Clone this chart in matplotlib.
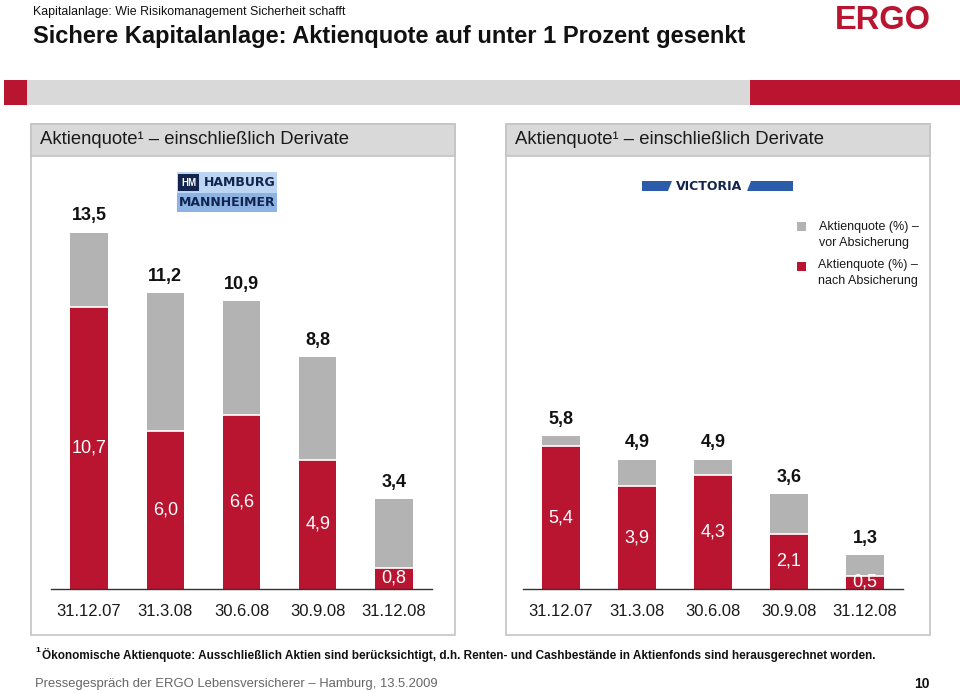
import matplotlib
matplotlib.use("Agg")
import matplotlib.pyplot as plt
from matplotlib.patches import Rectangle, Polygon

plt.rcParams['font.family'] = ['Liberation Sans', 'DejaVu Sans']

# data
dates = ['31.12.07', '31.3.08', '30.6.08', '30.9.08', '31.12.08']
hm_before = [13.5, 11.2, 10.9, 8.8, 3.4]
hm_after = [10.7, 6.0, 6.6, 4.9, 0.8]
vic_before = [5.8, 4.9, 4.9, 3.6, 1.3]
vic_after = [5.4, 3.9, 4.3, 2.1, 0.5]

RED = '#BA1530'
GREY = '#B3B3B3'
BAND = '#D9D9D9'
BORDER = '#C4C4C4'
W, H = 960, 693

fig = plt.figure(figsize=(9.6, 6.93), dpi=100)
bg = fig.add_axes([0, 0, 1, 1])
bg.set_xlim(0, W)
bg.set_ylim(H, 0)
bg.axis('off')

# header
bg.text(33, 12, 'Kapitalanlage: Wie Risikomanagement Sicherheit schafft',
        fontsize=8.9, va='center', color='#111111')
bg.text(33, 36, 'Sichere Kapitalanlage: Aktienquote auf unter 1 Prozent gesenkt',
        fontsize=17, fontweight='bold', va='center', color='#111111')
bg.text(931, 29, 'ERGO', fontsize=23.5, fontweight='bold',
        color=RED, ha='right', va='baseline')

# strip
bg.add_patch(Rectangle((4, 80), 23, 25, color=RED, lw=0))
bg.add_patch(Rectangle((27, 80), 723, 25, color=BAND, lw=0))
bg.add_patch(Rectangle((750, 80), 210, 25, color=RED, lw=0))

# panels
for x0, x1 in [(31, 455), (506, 930)]:
    bg.add_patch(Rectangle((x0, 124), x1 - x0, 511, facecolor='white',
                           edgecolor=BORDER, lw=1.2))
    bg.add_patch(Rectangle((x0, 124), x1 - x0, 32, facecolor=BAND,
                           edgecolor=BORDER, lw=1.2))
    bg.text(x0 + 9, 140, 'Aktienquote¹ – einschließlich Derivate',
            fontsize=13.3, va='center', color='#1a1a1a')

# Hamburg Mannheimer logo
bg.add_patch(Rectangle((177, 172), 100, 21, color='#BBD5F2', lw=0))
bg.add_patch(Rectangle((177, 193), 100, 19, color='#8CB3E3', lw=0))
bg.add_patch(Rectangle((178, 174), 21, 17, color='#13254F', lw=0))
bg.text(188.5, 183, 'HM', fontsize=7, color='white', ha='center', va='center',
        fontweight='bold')
bg.text(204, 183, 'HAMBURG', fontsize=9, color='#13254F', va='center',
        fontweight='bold', family=['DejaVu Sans'])
bg.text(227, 203, 'MANNHEIMER', fontsize=9, color='#13254F', va='center',
        ha='center', fontweight='bold', family=['DejaVu Sans'])

# Victoria logo
bg.add_patch(Polygon([(642, 181), (672, 181), (668, 191), (642, 191)],
                     closed=True, color='#2A5CAA', lw=0))
bg.add_patch(Polygon([(751, 181), (793, 181), (793, 191), (747, 191)],
                     closed=True, color='#2A5CAA', lw=0))
bg.text(709, 186, 'VICTORIA', fontsize=9, fontweight='bold', color='#13254F',
        ha='center', va='center', family=['DejaVu Sans'])

# legend
bg.add_patch(Rectangle((797, 222), 9, 9, color=GREY, lw=0))
bg.add_patch(Rectangle((797, 262), 9, 9, color=RED, lw=0))
bg.text(819, 235, 'Aktienquote (%) –\nvor Absicherung', fontsize=9,
        va='center', color='#1a1a1a', linespacing=1.4)
bg.text(818, 273, 'Aktienquote (%) –\nnach Absicherung', fontsize=9,
        va='center', color='#1a1a1a', linespacing=1.4)

# footnote / footer
bg.text(35, 651, '1', fontsize=6, fontweight='bold', va='center')
bg.text(42, 655, 'Ökonomische Aktienquote: Ausschließlich Aktien sind berücksichtigt, '
        'd.h. Renten- und Cashbestände in Aktienfonds sind herausgerechnet worden.',
        fontsize=8.5, fontweight='bold', va='center', color='#111111')
bg.text(35, 684, 'Pressegespräch der ERGO Lebensversicherer – Hamburg, 13.5.2009',
        fontsize=9.4, va='center', color='#666666')
bg.text(930, 684, '10', fontsize=10, fontweight='bold',
        va='center', ha='right', color='#111111')

PX_PER_UNIT = 26.4
BASE = 589
TOP = 160


def bar_panel(x0, x1, before, after):
    ax = fig.add_axes([x0 / W, (H - BASE) / H, (x1 - x0) / W, (BASE - TOP) / H])
    ax.set_facecolor('none')
    xs = list(range(len(dates)))
    rest = [b - a for b, a in zip(before, after)]
    ax.bar(xs, after, width=0.49, color=RED, lw=0)
    ax.bar(xs, rest, bottom=after, width=0.49, color=GREY, lw=0)
    ax.hlines(after, [x - 0.245 for x in xs], [x + 0.245 for x in xs],
              color='white', lw=1.2)
    for x, b, a in zip(xs, before, after):
        ax.annotate(f'{b:.1f}'.replace('.', ','), (x, b), xytext=(0, 12),
                    textcoords='offset points', ha='center', va='center',
                    fontsize=13, fontweight='bold', color='#111111')
        ax.text(x, a / 2, f'{a:.1f}'.replace('.', ','), ha='center',
                va='center', fontsize=13, color='white')
    ax.set_xlim(-0.5, len(dates) - 0.5)
    ax.set_ylim(0, (BASE - TOP) / PX_PER_UNIT)
    for s in ['top', 'left', 'right']:
        ax.spines[s].set_visible(False)
    ax.spines['bottom'].set_color('#333333')
    ax.spines['bottom'].set_linewidth(1.0)
    ax.set_yticks([])
    ax.set_xticks(xs)
    ax.set_xticklabels(dates, fontsize=12, color='#1a1a1a')
    ax.tick_params(axis='x', length=0, pad=11)


bar_panel(51, 432, hm_before, hm_after)
bar_panel(523, 903, vic_before, vic_after)

fig.savefig('out.png', dpi=100)
